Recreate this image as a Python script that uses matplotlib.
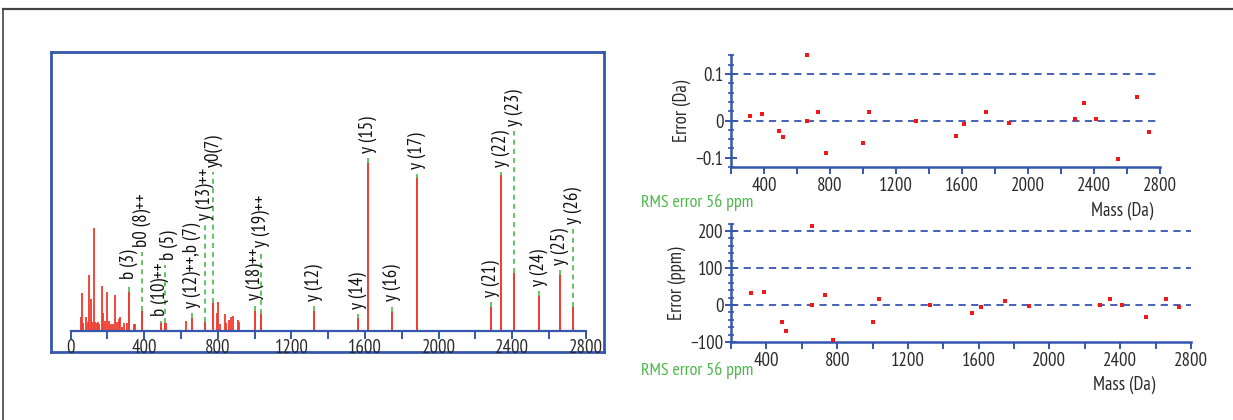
import matplotlib
matplotlib.use("Agg")
import matplotlib.pyplot as plt
from matplotlib.lines import Line2D

FONT = ["PT Sans Narrow", "DejaVu Sans"]
plt.rcParams["font.family"] = FONT

RED = "#ef3b2d"
GREEN = "#4cb84a"
BLUE = "#3556ad"
TXT = "#2a2a2a"

# --- spectrum: labelled fragment ions (mass in Da, intensity in % of base peak)
ion_names = ["b (3)", "b0 (8)++", "b (10)++", "b (5)", "y (12)++,b (7)", "y (13)++",
             "y0(7)", "y (18)++", "y (19)++", "y (12)", "y (14)", "y (15)", "y (16)",
             "y (17)", "y (21)", "y (22)", "y (23)", "y (24)", "y (25)", "y (26)"]
ion_mass = [315, 387, 489, 513, 659, 730, 775, 1000, 1034, 1323, 1561, 1615, 1748,
            1884, 2286, 2340, 2412, 2545, 2660, 2732]
ion_int = [23.0, 11.7, 4.6, 4.6, 7.6, 5.5, 16.5, 12.1, 10.0, 12.1, 7.6, 100.0, 11.5,
           91.4, 14.1, 93.0, 34.4, 20.9, 33.4, 14.1]
# where each rotated label starts (same % units)
label_base = [30.8, 49.9, 8.9, 42.3, 13.5, 66.2, 97.6, 18.5, 50.3, 18.1, 13.3, 106.3,
              18.1, 96.4, 20.5, 97.6, 122.2, 26.8, 39.4, 63.8]
label_shift = [0, 0, -4, 20, 0, 0, 0, 0, 0, 0, 0, 0, 0, 0, 0, 0, 0, 0, 0, 0]

# unassigned peaks
peak_mass = [54, 61, 69, 85, 94, 101, 109, 116, 127, 134, 141, 148, 156, 170, 178, 185,
             199, 210, 217, 228, 243, 250, 261, 268, 279, 290, 305, 344, 350, 518, 627,
             793, 800, 813, 838, 846, 860, 871, 882, 908, 915]
peak_int = [8.2, 22.8, 4.9, 8.2, 5.5, 33.4, 19.1, 5.4, 61.6, 5.4, 4.6, 5.5, 4.2, 26.8,
            10.6, 5.8, 23.4, 6.0, 4.2, 4.2, 21.5, 5.5, 7.3, 8.5, 2.6, 4.9, 4.6, 4.0, 4.0,
            4.6, 5.8, 10.6, 17.5, 4.2, 10.0, 4.9, 6.6, 8.2, 9.1, 6.6, 5.2]

# --- mass errors (y (12)++ and b (7) share one peak, so 21 points)
err_mass = [315, 387, 489, 513, 659, 659, 730, 775, 1000, 1034, 1323, 1561, 1615, 1748,
            1884, 2286, 2340, 2412, 2545, 2660, 2732]
err_da = [0.0094, 0.0144, -0.023, -0.036, 0.140, 0.0, 0.019, -0.0705, -0.048, 0.019, 0.0,
          -0.034, -0.0086, 0.019, -0.0058, 0.0043, 0.037, 0.0043, -0.083, 0.050, -0.025]
err_ppm = [33, 36, -47, -70, 213, 0, 26, -94, -47, 16, 0, -21, -6, 10, -4, 0, 16, 0, -33,
           16, -6]
rms_text = "RMS error 56 ppm"

W, H = 1233, 420


def box(x0, y0, x1, y1):
    return [x0 / W, 1 - y1 / H, (x1 - x0) / W, (y1 - y0) / H]


fig = plt.figure(figsize=(W / 100, H / 100), dpi=100)

# outer page border (top and left edge)
fig.add_artist(Line2D([3 / W, 1], [1 - 9 / H, 1 - 9 / H], color="#444444", lw=1.6))
fig.add_artist(Line2D([3 / W, 3 / W], [0, 1 - 9 / H], color="#444444", lw=1.2))

# blue frame round the spectrum
frame = fig.add_axes(box(51, 52, 604, 352))
frame.set_xticks([])
frame.set_yticks([])
for s in frame.spines.values():
    s.set_color(BLUE)
    s.set_linewidth(2)

ax = fig.add_axes(box(70.7, 52, 585.7, 331))
ax.patch.set_alpha(0)
ax.set_xlim(0, 2800)
ax.set_ylim(0, 166.4)
for k in ["left", "right", "top"]:
    ax.spines[k].set_visible(False)
ax.spines["bottom"].set_color(BLUE)
ax.spines["bottom"].set_linewidth(1.6)
ax.set_yticks([])
ax.set_xticks(range(0, 2801, 400))
ax.set_xticks(range(200, 2801, 400), minor=True)
ax.tick_params(axis="x", which="both", direction="out", length=6, width=1.4, color=BLUE,
               labelsize=13.5, labelcolor=TXT, pad=0)

ax.vlines(peak_mass, 0, peak_int, color=RED, lw=1.3)
ax.vlines(ion_mass, 0, ion_int, color=RED, lw=1.4)
for m, h, base, dx, name in zip(ion_mass, ion_int, label_base, label_shift, ion_names):
    ax.vlines(m, h, base - 3, color=GREEN, lw=1.2, linestyles=(0, (3, 2.5)))
    ax.text(m + dx, base, name, rotation=90, ha="center", va="bottom", fontsize=13.5,
            color="#111111")


def err_axes(rect, ylim, lines, yticks, yminor, ylabel, ys, yvals):
    a = fig.add_axes(rect)
    a.set_xlim(200, 2800)
    a.set_ylim(*ylim)
    a.spines["right"].set_visible(False)
    a.spines["top"].set_visible(False)
    for k in ["left", "bottom"]:
        a.spines[k].set_color(BLUE)
        a.spines[k].set_linewidth(1.8)
    a.set_xticks(range(400, 2801, 400))
    a.set_xticks(range(200, 2801, 200), minor=True)
    a.set_yticks(yticks)
    a.set_yticks(yminor, minor=True)
    a.tick_params(axis="x", which="both", direction="out", length=5, width=1.4, color=BLUE,
                  labelsize=13.5, labelcolor=TXT, pad=2)
    a.tick_params(axis="y", which="major", direction="inout", length=9, width=1.4,
                  color=BLUE, labelsize=13.5, labelcolor=TXT, pad=1)
    a.tick_params(axis="y", which="minor", direction="inout", length=5, width=1.2,
                  color=BLUE)
    for v in lines:
        a.axhline(v, color=BLUE, lw=1.3, ls=(0, (4, 3)))
    a.scatter(ys, yvals, marker="s", s=10, color="#f01818", zorder=3, linewidths=0,
              clip_on=False)
    a.set_ylabel(ylabel, fontsize=13.5, color=TXT, labelpad=3)
    return a


top = err_axes(box(731, 55.4, 1160, 167), (-0.1, 0.14), [0.1, 0.0], [-0.08, 0.0, 0.1],
               [v / 100 for v in range(-10, 15, 2)], "Error (Da)", err_mass, err_da)
top.set_yticklabels(["\u22120.1", "0", "0.1"])
fig.text(641 / W, 1 - 202 / H, rms_text, color=GREEN, fontsize=13, va="center")
fig.text(1122 / W, 1 - 211 / H, "Mass (Da)", color=TXT, fontsize=13.5, ha="center",
         va="center")

bot = err_axes(box(731, 223.6, 1191, 342), (-100, 220), [200, 100, 0], [-100, 0, 100, 200],
               range(-100, 221, 20), "Error (ppm)", err_mass, err_ppm)
bot.set_yticklabels(["\u2212100", "0", "100", "200"])
fig.text(641 / W, 1 - 370 / H, rms_text, color=GREEN, fontsize=13, va="center")
fig.text(1124 / W, 1 - 385 / H, "Mass (Da)", color=TXT, fontsize=13.5, ha="center",
         va="center")

fig.savefig("out.png", dpi=100)
